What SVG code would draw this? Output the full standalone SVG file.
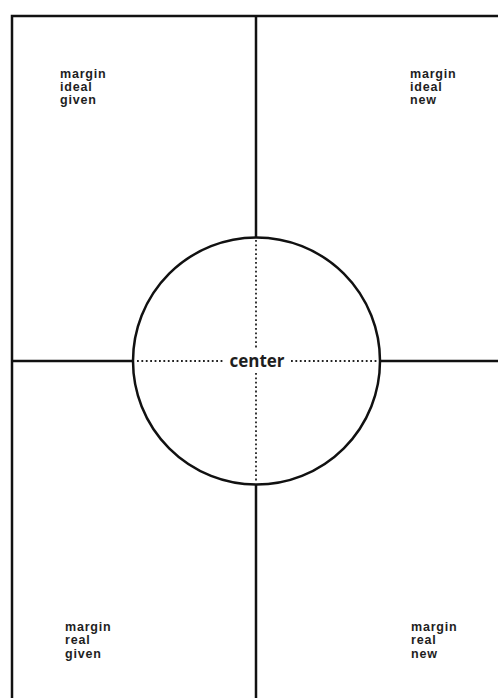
<svg xmlns="http://www.w3.org/2000/svg" width="498" height="698" viewBox="0 0 498 698">
<style>
.solid{stroke:#111;stroke-width:2.5;fill:none}
.dot{stroke:#222;stroke-width:1.8;stroke-dasharray:1.8 2.6;fill:none}
.lbl{font-family:"Liberation Sans",Arial,sans-serif;font-weight:bold;font-size:12.5px;letter-spacing:0.8px;fill:#1e1e1e}
.ctr{font-family:"Open Sans","Liberation Sans",sans-serif;font-weight:bold;font-size:17px;fill:#1e1e1e}
</style>
<rect width="498" height="698" fill="#fff"/>
<g id="frame">
<path class="solid" d="M12,698 V16 H498"/>
<line class="solid" x1="256" y1="16" x2="256" y2="238"/>
<line class="solid" x1="256" y1="484" x2="256" y2="698"/>
<line class="solid" x1="12" y1="361" x2="133" y2="361"/>
<line class="solid" x1="380" y1="361" x2="498" y2="361"/>
</g>
<g id="q-ideal-given"><text class="lbl" x="60" y="78">margin</text><text class="lbl" x="60" y="91">ideal</text><text class="lbl" x="60" y="104">given</text></g>
<g id="q-ideal-new"><text class="lbl" x="410" y="78">margin</text><text class="lbl" x="410" y="91">ideal</text><text class="lbl" x="410" y="104">new</text></g>
<g id="q-real-given"><text class="lbl" x="65" y="631">margin</text><text class="lbl" x="65" y="644">real</text><text class="lbl" x="65" y="658">given</text></g>
<g id="q-real-new"><text class="lbl" x="411" y="631">margin</text><text class="lbl" x="411" y="644">real</text><text class="lbl" x="411" y="658">new</text></g>
<g id="center">
<circle class="solid" cx="256.5" cy="361" r="123.5"/>
<g id="connectors">
<line class="dot" x1="137" y1="361" x2="224" y2="361"/>
<line class="dot" x1="291" y1="361" x2="378" y2="361"/>
<line class="dot" x1="256" y1="240" x2="256" y2="350"/>
<line class="dot" x1="256" y1="373" x2="256" y2="483"/>
</g>
<text class="ctr" x="257" y="367" text-anchor="middle">center</text>
</g>
</svg>
